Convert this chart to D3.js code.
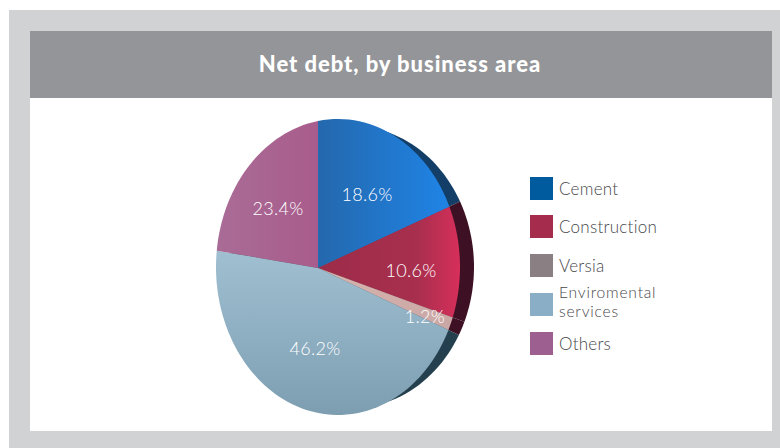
<!DOCTYPE html>
<html><head><meta charset="utf-8">
<style>html,body{margin:0;padding:0;background:#fff}svg{display:block}text{font-family:"Lato","Open Sans",sans-serif}</style>
<script src="https://cdn.jsdelivr.net/npm/d3@7"></script></head>
<body><svg id="c" width="780" height="448"></svg>
<script>
const titleText = "Net debt, by business area";
const categories = ["Cement","Construction","Versia","Enviromental services","Others"];
const values = [18.6,10.6,1.2,46.2,23.4];
const legendLines = [["Cement"],["Construction"],["Versia"],["Enviromental","services"],["Others"]];
const legendColors = ["#005a9e","#a52c4c","#8a7f82","#8aaec6","#9d5f90"];
const sideColors = ["#123e68","#3d1024","#3d1024","#24404e","#24404e"];
const gradStops = [[["0%","#2468ad"],["100%","#1f84e6"]],
                   [["0%","#9c2c49"],["70%","#a82f4e"],["100%","#d62f5a"]],
                   [["0%","#d8b4ae"],["100%","#c9a7a5"]],
                   [["0%","#a0c0d2"],["100%","#7d9db1"]],
                   [["0%","#a96c96"],["100%","#a95c8c"]]];
const labelPos = [[367,194],[411,270],[425,316],[315,348],[278,208]];

const svg = d3.select("#c");
svg.append("rect").attr("x",9).attr("y",10).attr("width",771).attr("height",438).attr("fill","#d1d2d4");
svg.append("rect").attr("x",30).attr("y",31).attr("width",742).attr("height",400).attr("fill","#fff");
svg.append("rect").attr("x",30).attr("y",31).attr("width",742).attr("height",67).attr("fill","#939598");
svg.append("text").attr("x",400).attr("y",71.5).attr("text-anchor","middle").attr("fill","#fff")
  .attr("font-size",22).attr("font-weight",900).attr("letter-spacing",0.95).text(titleText);

// perspective disc: apex sits left of the ellipse centre
const apex=[318,268], faceEll={cx:338,cy:267,rx:122,ry:148}, sideEll={cx:352,cy:267,rx:122,ry:141};
const rad = d=>d*Math.PI/180;
const warp = d3.scaleLinear().domain([0,67,105,109,275,360].map(rad)).range([0,65,110,115,279,360].map(rad));
function radius(t,ell){
  const dx=Math.sin(t), dy=-Math.cos(t);
  const px=(apex[0]-ell.cx)/ell.rx, py=(apex[1]-ell.cy)/ell.ry, qx=dx/ell.rx, qy=dy/ell.ry;
  const A=qx*qx+qy*qy, B=2*(px*qx+py*qy), C=px*px+py*py-1;
  return (-B+Math.sqrt(B*B-4*A*C))/(2*A);
}
const arcs = d3.pie().sort(null)(values);
const wedge = ell=>a=>{
  const s=warp(a.startAngle), e=warp(a.endAngle);
  const n=Math.max(2,Math.ceil((e-s)/rad(2)));
  const ts=d3.range(n+1).map(i=>s+(e-s)*i/n);
  return d3.lineRadial().angle(d=>d).radius(t=>radius(t,ell))(ts)+"L0,0Z";
};
const defs=svg.append("defs");
gradStops.forEach((g,i)=>{
  const lg=defs.append("linearGradient").attr("id","g"+i);
  if(i===3){lg.attr("x1",0).attr("x2",0).attr("y1",0).attr("y2",1);}
  g.forEach(s=>lg.append("stop").attr("offset",s[0]).attr("stop-color",s[1]));
});
const pieG=svg.append("g").attr("transform",`translate(${apex[0]},${apex[1]})`);
pieG.append("g").selectAll("path").data(arcs).join("path").attr("d",wedge(sideEll)).attr("fill",(d,i)=>sideColors[i]);
pieG.append("g").selectAll("path").data(arcs).join("path").attr("d",wedge(faceEll)).attr("fill",(d,i)=>`url(#g${i})`);
svg.append("g").selectAll("text").data(values).join("text")
  .attr("x",(d,i)=>labelPos[i][0]).attr("y",(d,i)=>labelPos[i][1]+6.5)
  .attr("text-anchor","middle").attr("fill","#fff").attr("font-size",18).attr("font-weight",300)
  .attr("letter-spacing",0.3).text(d=>d.toFixed(1)+"%");

const legY=[177,215,254,293,332];
const legG=svg.append("g").selectAll("g").data(categories).join("g");
legG.append("rect").attr("x",530).attr("y",(d,i)=>legY[i]).attr("width",23).attr("height",23).attr("fill",(d,i)=>legendColors[i]);
legG.each(function(d,i){
    const lines=legendLines[i], two=lines.length>1;
    d3.select(this).selectAll("text").data(lines).join("text")
     .attr("fill","#47484a").attr("font-weight",300)
     .attr("font-size",two?15.6:17).attr("letter-spacing",two?0.8:0.25)
     .attr("x",559).attr("y",(l,j)=>two?legY[i]+5+j*19:legY[i]+18).text(l=>l);
  });
</script></body></html>
